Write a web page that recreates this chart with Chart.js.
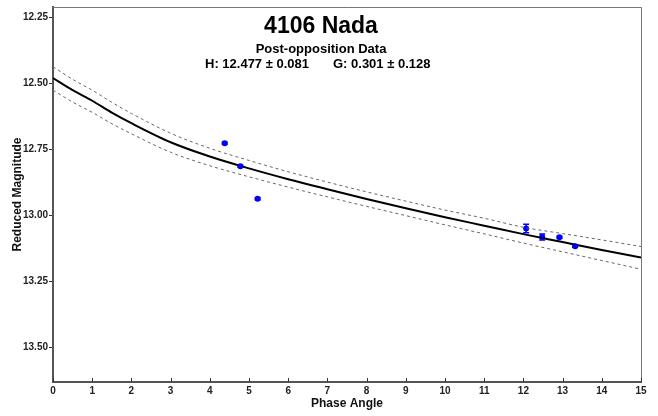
<!DOCTYPE html>
<html>
<head>
<meta charset="utf-8">
<title>4106 Nada</title>
<script src="https://cdn.jsdelivr.net/npm/chart.js@4/dist/chart.umd.min.js"></script>
<style>
  html, body { margin: 0; padding: 0; background: #fff; }
  #wrap { width: 658px; height: 416px; }
</style>
</head>
<body>
<div id="wrap"><canvas id="chart" width="658" height="416"></canvas></div>
<script>
// Fitted H-G curve
const curveAngles = [0, 0.5, 1, 1.5, 2, 3, 4, 5, 6, 7, 8, 9, 10, 11, 12, 13, 14, 15];
const curveMag = [12.479, 12.525, 12.565, 12.610, 12.650, 12.722, 12.776, 12.821, 12.862, 12.900, 12.937, 12.972, 13.006, 13.038, 13.070, 13.100, 13.130, 13.159];
// dashed envelope (above / below the fit)
const upperMag = [12.436, 12.484, 12.525, 12.571, 12.613, 12.688, 12.745, 12.791, 12.834, 12.873, 12.910, 12.945, 12.979, 13.010, 13.044, 13.068, 13.092, 13.117];
const lowerMag = [12.525, 12.570, 12.609, 12.652, 12.690, 12.760, 12.811, 12.853, 12.892, 12.929, 12.965, 13.000, 13.035, 13.069, 13.104, 13.137, 13.170, 13.203];

// observations
const obsAngle = [4.38, 4.78, 5.22, 12.07, 12.48, 12.92, 13.32];
const obsMag = [12.726, 12.813, 12.936, 13.049, 13.081, 13.082, 13.116];
const obsErr = [0.004, 0.004, 0.004, 0.016, 0.011, 0.004, 0.004];

const xTicks = [0, 1, 2, 3, 4, 5, 6, 7, 8, 9, 10, 11, 12, 13, 14, 15];
const yTicks = [12.25, 12.50, 12.75, 13.00, 13.25, 13.50];

const FONT = '"Liberation Sans", Arial, Helvetica, sans-serif';

const toPoints = (xs, ys) => xs.map((x, i) => ({ x, y: ys[i] }));

// error bars, frame (top/right) and inside x tick marks, plus header text
const extras = {
    id: 'extras',
    beforeDatasetsDraw(chart) {
        const { ctx, chartArea: a, scales: { x } } = chart;
        ctx.save();
        ctx.strokeStyle = '#777';
        ctx.lineWidth = 1;
        ctx.beginPath();
        ctx.moveTo(a.left, a.top + 0.5);
        ctx.lineTo(a.right + 0.5, a.top + 0.5);
        ctx.lineTo(a.right + 0.5, a.bottom);
        ctx.stroke();

        ctx.strokeStyle = '#333';
        ctx.beginPath();
        xTicks.forEach(v => {
            const px = Math.round(x.getPixelForValue(v)) + 0.5;
            ctx.moveTo(px, a.bottom);
            ctx.lineTo(px, a.bottom - 4);
        });
        ctx.stroke();

        ctx.fillStyle = '#000';
        ctx.textAlign = 'center';
        ctx.textBaseline = 'alphabetic';
        ctx.font = 'bold 23px ' + FONT;
        ctx.fillText('4106 Nada', 321, 33);
        ctx.font = 'bold 13px ' + FONT;
        ctx.fillText('Post-opposition Data', 321, 53);
        ctx.textAlign = 'left';
        ctx.fillText('H: 12.477 ± 0.081', 205, 68);
        ctx.fillText('G: 0.301 ± 0.128', 333, 68);
        ctx.restore();
    },
    afterDatasetsDraw(chart) {
        const { ctx, scales: { x, y } } = chart;
        ctx.save();
        ctx.strokeStyle = '#0000ff';
        ctx.lineWidth = 1.5;
        ctx.beginPath();
        obsAngle.forEach((a, i) => {
            const px = x.getPixelForValue(a);
            const y1 = y.getPixelForValue(obsMag[i] - obsErr[i]);
            const y2 = y.getPixelForValue(obsMag[i] + obsErr[i]);
            ctx.moveTo(px, y1); ctx.lineTo(px, y2);
            ctx.moveTo(px - 3, y1); ctx.lineTo(px + 3, y1);
            ctx.moveTo(px - 3, y2); ctx.lineTo(px + 3, y2);
        });
        ctx.stroke();
        ctx.restore();
    }
};

const lineBase = { pointRadius: 0, cubicInterpolationMode: 'monotone' };

const ctx = document.getElementById('chart').getContext('2d');
new Chart(ctx, {
    type: 'line',
    data: {
        datasets: [
            {
                ...lineBase,
                label: 'Upper',
                data: toPoints(curveAngles, upperMag),
                borderColor: '#666',
                borderWidth: 1,
                borderDash: [3, 3],
            },
            {
                ...lineBase,
                label: 'Lower',
                data: toPoints(curveAngles, lowerMag),
                borderColor: '#666',
                borderWidth: 1,
                borderDash: [3, 3],
            },
            {
                ...lineBase,
                label: 'Fit',
                data: toPoints(curveAngles, curveMag),
                borderColor: '#000',
                borderWidth: 2,
            },
            {
                label: 'Observed',
                data: toPoints(obsAngle, obsMag),
                showLine: false,
                pointRadius: 3,
                pointBackgroundColor: '#0000ff',
                pointBorderColor: '#0000ff',
                pointBorderWidth: 0,
            },
        ],
    },
    options: {
        responsive: false,
        animation: false,
        devicePixelRatio: 1,
        layout: { padding: { top: 7, right: 17, bottom: 0, left: 0 } },
        plugins: {
            legend: { display: false },
            tooltip: { enabled: false },
        },
        scales: {
            x: {
                type: 'linear',
                min: 0,
                max: 15,
                afterFit: s => { s.height = 34; },
                afterBuildTicks: s => { s.ticks = xTicks.map(v => ({ value: v })); },
                grid: { display: true, drawOnChartArea: false, drawTicks: false },
                border: { display: true, color: '#555', width: 2 },
                ticks: {
                    padding: 3,
                    maxRotation: 0,
                    color: '#222',
                    font: { family: FONT, size: 10, weight: 'bold' },
                    callback: v => String(v),
                },
                title: {
                    display: true,
                    text: 'Phase Angle',
                    color: '#111',
                    font: { family: FONT, size: 12, weight: 'bold' },
                    padding: { top: 0, bottom: 5 },
                },
            },
            y: {
                type: 'linear',
                reverse: true,
                min: 12.21,
                max: 13.63,
                afterFit: s => { s.width = 53; },
                afterBuildTicks: s => { s.ticks = yTicks.map(v => ({ value: v })); },
                grid: { drawOnChartArea: false, drawTicks: true, tickLength: 4, color: '#333' },
                border: { display: true, color: '#555', width: 2 },
                ticks: {
                    padding: 1,
                    color: '#222',
                    font: { family: FONT, size: 10, weight: 'bold' },
                    callback: v => Number(v).toFixed(2),
                },
                title: {
                    display: true,
                    text: 'Reduced Magnitude',
                    color: '#111',
                    font: { family: FONT, size: 12, weight: 'bold' },
                    padding: { top: 10, bottom: 0 },
                },
            },
        },
    },
    plugins: [extras],
});
</script>
</body>
</html>
